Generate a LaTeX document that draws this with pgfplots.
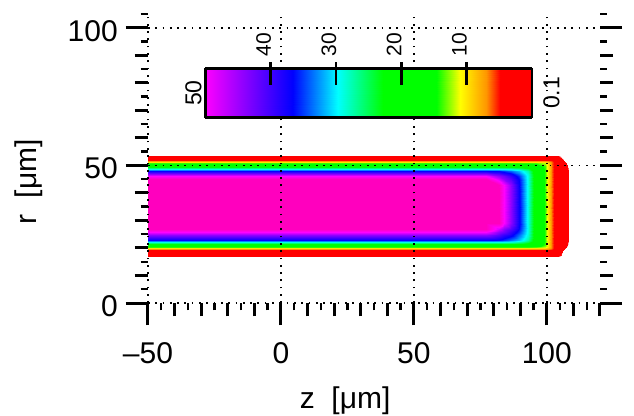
\documentclass[border=0pt]{standalone}
\usepackage{pgfplots}
\pgfplotsset{compat=1.18}
\usepackage{fontspec}
\setmainfont{Liberation Sans}
\pgfplotsset{colormap={igor}{rgb255(0pt)=(255,255,255) rgb255(9.8pt)=(255,255,255) rgb255(10.1pt)=(255,0,0) rgb255(14.9pt)=(255,0,0) rgb255(17pt)=(255,150,0) rgb255(21pt)=(255,255,0) rgb255(24.6pt)=(0,255,0) rgb255(32.8pt)=(0,255,0) rgb255(39.7pt)=(0,255,255) rgb255(46.6pt)=(0,0,255) rgb255(60pt)=(255,0,255) rgb255(66pt)=(255,0,190)}}
\newcommand{\bigf}{\fontsize{30bp}{36bp}\selectfont}
\newcommand{\cbf}{\fontsize{21bp}{25bp}\selectfont}
\newcommand{\cbe}{\fontsize{23bp}{27bp}\selectfont}
\pgfplotstableread{
z r c
-50 16.9 0.5
77 16.9 0.5
82.2 16.9 0.5
84 16.9 0.5
86.6 16.9 0.5
89.6 16.9 0.5
92.9 16.9 0.5
96.1 16.9 0.5
99.3 16.9 0.5
100.3 16.9 0.5
101.4 16.9 0.5
103 16.9 0.5
105.6 16.9 -0.37
108.2 16.9 -10
-50 18.0 2
77 18.0 2
82.2 18.0 2
84 18.0 2
86.6 18.0 2
89.6 18.0 2
92.9 18.0 2
96.1 18.0 2
99.3 18.0 2
100.3 18.0 2
101.4 18.0 2
103 18.0 2
105.6 18.0 -0.14
108.2 18.0 -10
-50 19.1 4
77 19.1 4
82.2 19.1 4
84 19.1 4
86.6 19.1 4
89.6 19.1 4
92.9 19.1 4
96.1 19.1 4
99.3 19.1 4
100.3 19.1 4
101.4 19.1 4
103 19.1 3.4
105.6 19.1 2
108.2 19.1 -6.3
-50 19.6 7
77 19.6 7
82.2 19.6 7
84 19.6 7
86.6 19.6 7
89.6 19.6 7
92.9 19.6 7
96.1 19.6 7
99.3 19.6 7
100.3 19.6 6.8
101.4 19.6 6.0
103 19.6 4
105.6 19.6 2
108.2 19.6 -3.5
-50 19.9 10
77 19.9 10
82.2 19.9 10
84 19.9 10
86.6 19.9 10
89.6 19.9 10
92.9 19.9 10
96.1 19.9 10
99.3 19.9 9.7
100.3 19.9 8.5
101.4 19.9 6.8
103 19.9 4
105.6 19.9 2
108.2 19.9 -2.5
-50 20.3 14
77 20.3 14
82.2 20.3 14
84 20.3 14
86.6 20.3 14
89.6 20.3 14
92.9 20.3 14
96.1 20.3 13.6
99.3 20.3 11.9
100.3 20.3 9.7
101.4 20.3 7
103 20.3 4
105.6 20.3 2
108.2 20.3 -1.3
-50 21.1 20
77 21.1 20
82.2 21.1 20
84 21.1 20
86.6 21.1 20
89.6 21.1 20
92.9 21.1 19.4
96.1 21.1 17
99.3 21.1 13.6
100.3 21.1 10
101.4 21.1 7
103 21.1 4
105.6 21.1 2
108.2 21.1 -0.6
-50 22.1 29
77 22.1 29
82.2 22.1 29
84 22.1 29
86.6 22.1 28.6
89.6 22.1 27.3
92.9 22.1 24.7
96.1 22.1 19.4
99.3 22.1 14
100.3 22.1 10
101.4 22.1 7
103 22.1 4
105.6 22.1 2
108.2 22.1 -0.35
-50 23.0 37
77 23.0 37
82.2 23.0 36.4
84 23.0 35.3
86.6 23.0 33.7
89.6 23.0 31.5
92.9 23.0 27.3
96.1 23.0 20
99.3 23.0 14
100.3 23.0 10
101.4 23.0 7
103 23.0 4
105.6 23.0 2
108.2 23.0 0
-50 24.6 44
77 24.6 44
82.2 24.6 41.1
84 24.6 39.2
86.6 24.6 37.4
89.6 24.6 33.7
92.9 24.6 28.6
96.1 24.6 20
99.3 24.6 14
100.3 24.6 10
101.4 24.6 7
103 24.6 4
105.6 24.6 2
108.2 24.6 0.5
-50 25.7 50
77 25.7 50
82.2 25.7 44.1
84 25.7 42.5
86.6 25.7 39.2
89.6 25.7 35.3
92.9 25.7 29
96.1 25.7 20
99.3 25.7 14
100.3 25.7 10
101.4 25.7 7
103 25.7 4
105.6 25.7 2
108.2 25.7 0.5
-50 26.9 56
77 26.9 56
82.2 26.9 47.6
84 26.9 44.1
86.6 26.9 41.1
89.6 26.9 36.4
92.9 26.9 29
96.1 26.9 20
99.3 26.9 14
100.3 26.9 10
101.4 26.9 7
103 26.9 4
105.6 26.9 2
108.2 26.9 0.5
-50 29.0 60
77 29.0 60
82.2 29.0 56
84 29.0 50
86.6 29.0 44
89.6 29.0 37
92.9 29.0 29
96.1 29.0 20
99.3 29.0 14
100.3 29.0 10
101.4 29.0 7
103 29.0 4
105.6 29.0 2
108.2 29.0 0.5
-50 35.2 60
77 35.2 60
82.2 35.2 56
84 35.2 50
86.6 35.2 44
89.6 35.2 37
92.9 35.2 29
96.1 35.2 20
99.3 35.2 14
100.3 35.2 10
101.4 35.2 7
103 35.2 4
105.6 35.2 2
108.2 35.2 0.5
-50 43.0 60
77 43.0 60
82.2 43.0 56
84 43.0 50
86.6 43.0 44
89.6 43.0 37
92.9 43.0 29
96.1 43.0 20
99.3 43.0 14
100.3 43.0 10
101.4 43.0 7
103 43.0 4
105.6 43.0 2
108.2 43.0 0.5
-50 45.0 56
77 45.0 56
82.2 45.0 47.6
84 45.0 44.1
86.6 45.0 41.1
89.6 45.0 36.4
92.9 45.0 29
96.1 45.0 20
99.3 45.0 14
100.3 45.0 10
101.4 45.0 7
103 45.0 4
105.6 45.0 2
108.2 45.0 0.5
-50 46.0 50
77 46.0 50
82.2 46.0 44.1
84 46.0 42.5
86.6 46.0 39.2
89.6 46.0 35.3
92.9 46.0 29
96.1 46.0 20
99.3 46.0 14
100.3 46.0 10
101.4 46.0 7
103 46.0 4
105.6 46.0 2
108.2 46.0 0.5
-50 46.7 44
77 46.7 44
82.2 46.7 41.1
84 46.7 39.2
86.6 46.7 37.4
89.6 46.7 33.7
92.9 46.7 28.6
96.1 46.7 20
99.3 46.7 14
100.3 46.7 10
101.4 46.7 7
103 46.7 4
105.6 46.7 2
108.2 46.7 0.5
-50 47.8 37
77 47.8 37
82.2 47.8 36.4
84 47.8 35.3
86.6 47.8 33.7
89.6 47.8 31.5
92.9 47.8 27.3
96.1 47.8 20
99.3 47.8 14
100.3 47.8 10
101.4 47.8 7
103 47.8 4
105.6 47.8 2
108.2 47.8 0
-50 48.7 29
77 48.7 29
82.2 48.7 29
84 48.7 29
86.6 48.7 28.6
89.6 48.7 27.3
92.9 48.7 24.7
96.1 48.7 19.4
99.3 48.7 14
100.3 48.7 10
101.4 48.7 7
103 48.7 4
105.6 48.7 2
108.2 48.7 -0.35
-50 49.7 20
77 49.7 20
82.2 49.7 20
84 49.7 20
86.6 49.7 20
89.6 49.7 20
92.9 49.7 19.4
96.1 49.7 17
99.3 49.7 13.6
100.3 49.7 10
101.4 49.7 7
103 49.7 4
105.6 49.7 2
108.2 49.7 -0.6
-50 50.7 14
77 50.7 14
82.2 50.7 14
84 50.7 14
86.6 50.7 14
89.6 50.7 14
92.9 50.7 14
96.1 50.7 13.6
99.3 50.7 11.9
100.3 50.7 9.7
101.4 50.7 7
103 50.7 4
105.6 50.7 2
108.2 50.7 -1.3
-50 51.2 10
77 51.2 10
82.2 51.2 10
84 51.2 10
86.6 51.2 10
89.6 51.2 10
92.9 51.2 10
96.1 51.2 10
99.3 51.2 9.7
100.3 51.2 8.5
101.4 51.2 6.8
103 51.2 4
105.6 51.2 2
108.2 51.2 -2.5
-50 51.55 7
77 51.55 7
82.2 51.55 7
84 51.55 7
86.6 51.55 7
89.6 51.55 7
92.9 51.55 7
96.1 51.55 7
99.3 51.55 7
100.3 51.55 6.8
101.4 51.55 6.0
103 51.55 4
105.6 51.55 2
108.2 51.55 -3.5
-50 51.9 4
77 51.9 4
82.2 51.9 4
84 51.9 4
86.6 51.9 4
89.6 51.9 4
92.9 51.9 4
96.1 51.9 4
99.3 51.9 4
100.3 51.9 4
101.4 51.9 4
103 51.9 3.4
105.6 51.9 2
108.2 51.9 -6.3
-50 52.65 2
77 52.65 2
82.2 52.65 2
84 52.65 2
86.6 52.65 2
89.6 52.65 2
92.9 52.65 2
96.1 52.65 2
99.3 52.65 2
100.3 52.65 2
101.4 52.65 2
103 52.65 2
105.6 52.65 -0.14
108.2 52.65 -10
-50 53.4 0.5
77 53.4 0.5
82.2 53.4 0.5
84 53.4 0.5
86.6 53.4 0.5
89.6 53.4 0.5
92.9 53.4 0.5
96.1 53.4 0.5
99.3 53.4 0.5
100.3 53.4 0.5
101.4 53.4 0.5
103 53.4 0.5
105.6 53.4 -0.37
108.2 53.4 -10
}\fielddata
\pgfplotstableread{
x y z c
0 0 0 0
50 0 0 50
0 1 0 0
50 1 0 50
}\cbdata
\begin{document}
\begin{tikzpicture}
\useasboundingbox (-148bp,-113bp) rectangle (486bp,303bp);
\begin{axis}[
  at={(0,0)}, anchor=south west, scale only axis,
  width=452bp, height=289bp,
  view={0}{90}, enlargelimits=false,
  xmin=-50, xmax=120, ymin=0, ymax=105,
  point meta min=-10, point meta max=56, colormap name=igor,
  axis on top,
  axis line style={draw=none},
  xtick={-50,0,50,100}, xticklabels={--50,0,50,100},
  ytick={0,50,100}, yticklabels={0,50,100},
  ztick=\empty,
  minor xtick={-45,-35,-25,-15,-5,5,15,25,35,45,55,65,75,85,95,105,115},
  minor ytick={5,15,25,35,45,55,65,75,85,95,105},
  extra x ticks={-40,-30,-20,-10,10,20,30,40,60,70,80,90,110,120},
  extra x tick labels={},
  extra y ticks={10,20,30,40,60,70,80,90},
  extra y tick labels={},
  extra x tick style={major tick length=13bp, grid=none},
  extra y tick style={major tick length=13bp, grid=none},
  xtick pos=lower, ytick pos=both, yticklabel pos=left,
  tick align=outside,
  major tick length=22bp, minor tick length=7bp,
  major tick style={line width=3bp, black},
  minor tick style={line width=2.4bp, black},
  grid=major,
  major grid style={black, line width=1.7bp, dash pattern=on 1.7bp off 5.6bp},
  tick label style={font=\bigf, inner sep=0pt},
  xticklabel style={anchor=base, yshift=-38bp},
  yticklabel style={anchor=east, xshift=-8bp, yshift=-3bp},
  xlabel={z\ \ [μm]}, ylabel={r\ \ [μm]},
  every axis x label/.style={at={(rel axis cs:0.436,0,0)}, anchor=base, yshift=-105bp, inner sep=0pt, font=\bigf},
  every axis y label/.style={at={([xshift=-111bp]rel axis cs:0,0.419,0)}, rotate=90, anchor=base, inner sep=0pt, font=\bigf},
]
\addplot3[surf, shader=interp, point meta=explicit, mesh/cols=14, mesh/rows=27] table[x=z, y=r, z=c, meta=c] {\fielddata};
\end{axis}
\begin{axis}[
  at={(57.5bp,185.3bp)}, anchor=south west, scale only axis,
  width=326.5bp, height=49.4bp,
  view={0}{90}, enlargelimits=false, clip=false,
  xmin=0, xmax=50, ymin=0, ymax=1, x dir=reverse,
  point meta min=-10, point meta max=56, colormap name=igor,
  axis on top,
  xtick={10,20,30,40}, xticklabels={10,20,30,40},
  ytick=\empty, ztick=\empty,
  xtick pos=upper, xticklabel pos=upper,
  tick align=center, major tick length=23bp,
  major tick style={line width=2.7bp, black, yshift=-5.5bp},
  axis line style={line width=2.5bp, black},
  xticklabel style={rotate=90, anchor=base west, inner sep=0pt, font=\cbf},
]
\addplot3[surf, shader=interp, point meta=explicit, mesh/cols=2, mesh/rows=2] table[x=x, y=y, z=z, meta=c] {\cbdata};
\node[rotate=90, anchor=base, inner sep=0pt, font=\cbe] at ([xshift=-4bp]axis cs:50,0.5,0) {50};
\node[rotate=90, anchor=north, inner sep=0pt, font=\cbe] at ([xshift=11bp]axis cs:0,0.5,0) {0.1};
\end{axis}
\end{tikzpicture}
\end{document}
